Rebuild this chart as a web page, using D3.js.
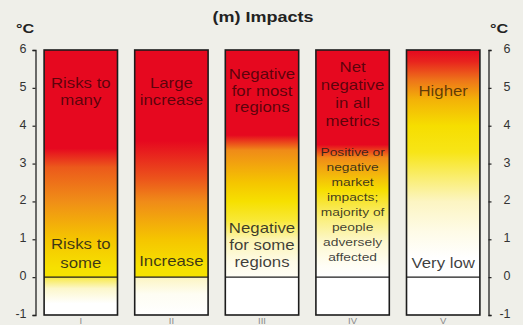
<!DOCTYPE html>
<html>
<head>
<meta charset="utf-8">
<script src="https://cdn.jsdelivr.net/npm/d3@7"></script>
<style>
  html, body { margin: 0; padding: 0; background: #efefe9; }
  svg { display: block; }
  text { font-family: "Liberation Sans", Arial, Helvetica, sans-serif; }
</style>
</head>
<body>
<svg id="chart" width="523" height="325"></svg>
<script>
// Reasons for concern: (m) Impacts, by global temperature change (°C)
const title = "(m) Impacts";
const unit = "°C";
const categories = ["I", "II", "III", "IV", "V"];
const tempTicks = [-1, 0, 1, 2, 3, 4, 5, 6];
const tempDomain = [-1, 6];

// Risk level (0 = none, 1 = high) along the temperature scale, one profile per category
const riskI   = [[6, 1], [3.4, 1], [2.9, 0.85], [2.0, 0.75], [1.0, 0.56], [0.25, 0.46], [0, 0.45], [0, 0.36], [-0.3, 0.17], [-0.7, 0], [-1, 0]];
const riskII  = [[6, 1], [3.6, 1], [2.6, 0.86], [2.0, 0.76], [1.0, 0.56], [0.3, 0.46], [0, 0.45], [0, 0.2], [-0.45, 0.04], [-1, 0]];
const riskIII = [[6, 1], [3.75, 1], [3.35, 0.76], [2.5, 0.56], [2.0, 0.46], [1.5, 0.38], [1.0, 0.22], [0.4, 0.08], [0, 0.03], [0, 0], [-1, 0]];
const riskIV  = [[6, 1], [3.5, 1], [3.15, 0.76], [2.3, 0.47], [1.6, 0.3], [0.9, 0.15], [0.3, 0.03], [0, 0], [-1, 0]];
const riskV   = [[6, 1], [5.7, 0.95], [5.2, 0.8], [4.7, 0.63], [4.0, 0.47], [3.3, 0.42], [2.6, 0.3], [2.0, 0.2], [1.2, 0.08], [0.5, 0], [-1, 0]];
const riskProfiles = [riskI, riskII, riskIII, riskIV, riskV];

// Wording inside each bar: upper (high-warming) and lower (low-warming) statements
const upperText = [
  ["Risks to", "many"],
  ["Large", "increase"],
  ["Negative", "for most", "regions"],
  ["Net", "negative", "in all", "metrics"],
  ["Higher"]
];
const lowerText = [
  ["Risks to", "some"],
  ["Increase"],
  ["Negative", "for some", "regions"],
  ["Positive or", "negative", "market", "impacts;", "majority of", "people", "adversely", "affected"],
  ["Very low"]
];
// Temperature at which the first line of each statement sits
const upperAt = [5.0, 5.0, 5.23, 5.42, 4.78];
const lowerAt = [0.74, 0.29, 1.16, 3.2, 0.24];

// ---- layout ----
const svg = d3.select("#chart");
const plotLeft = 35.5, plotRight = 488.5, plotTop = 50, plotBottom = 315;
const textStretch = 1.2;

const x = d3.scaleBand().domain(categories).range([plotLeft, plotRight]).paddingInner(0.19).paddingOuter(0.095);
const y = d3.scaleLinear().domain(tempDomain).range([plotBottom, plotTop]);

const riskColor = d3.scaleLinear()
  .domain([0, 0.2, 0.45, 0.56, 0.76, 1])
  .range(["#ffffff", "#fcf5c2", "#f6e300", "#f5c500", "#f08b18", "#e6081f"])
  .interpolate(d3.interpolateRgb);

// Gradients along the temperature axis for each bar
const defs = svg.append("defs");
categories.forEach((c, i) => {
  const g = defs.append("linearGradient")
    .attr("id", "risk-" + i)
    .attr("gradientUnits", "userSpaceOnUse")
    .attr("x1", 0).attr("x2", 0)
    .attr("y1", y(tempDomain[1])).attr("y2", y(tempDomain[0]));
  riskProfiles[i].forEach(([t, lvl]) => {
    g.append("stop")
      .attr("offset", (tempDomain[1] - t) / (tempDomain[1] - tempDomain[0]))
      .attr("stop-color", riskColor(lvl));
  });
});

// Text drawn slightly wide, like the original typesetting
const stretched = (sel, cx, cy) => sel.attr("transform", `translate(${cx},${cy}) scale(${textStretch},1)`);

stretched(svg.append("text"), 263, 22)
  .attr("text-anchor", "middle")
  .attr("font-size", 15).attr("font-weight", "bold").attr("fill", "#222")
  .text(title);

stretched(svg.append("text"), 25, 33)
  .attr("text-anchor", "middle")
  .attr("font-size", 13.5).attr("font-weight", "bold").attr("fill", "#222")
  .text(unit);
stretched(svg.append("text"), 499, 33)
  .attr("text-anchor", "middle")
  .attr("font-size", 13.5).attr("font-weight", "bold").attr("fill", "#222")
  .text(unit);

// Bars
const bars = svg.append("g").selectAll("g").data(categories).join("g");

bars.append("rect")
  .attr("x", d => x(d))
  .attr("y", y(tempDomain[1]))
  .attr("width", x.bandwidth())
  .attr("height", y(tempDomain[0]) - y(tempDomain[1]))
  .attr("fill", (d, i) => `url(#risk-${i})`)
  .attr("stroke", "#1c1c1c")
  .attr("stroke-width", 1.6);

bars.append("line")
  .attr("x1", d => x(d)).attr("x2", d => x(d) + x.bandwidth())
  .attr("y1", y(0)).attr("y2", y(0))
  .attr("stroke", "#1c1c1c").attr("stroke-width", 1.3);

// Statements inside the bars
const upperSize = [14, 14, 14, 14, 14];
const lowerSize = [14, 14, 14, 11.5, 14];
const upperLine = [17, 17, 16.5, 18, 17];
const lowerLine = [18.5, 18, 17, 15, 17];

bars.each(function (d, i) {
  const g = d3.select(this);
  const cx = x(d) + x.bandwidth() / 2;
  upperText[i].forEach((line, k) => {
    stretched(g.append("text"), cx, y(upperAt[i]) + k * upperLine[i])
      .attr("text-anchor", "middle")
      .attr("font-size", upperSize[i])
      .attr("fill", "#000").attr("fill-opacity", 0.62)
      .text(line);
  });
  lowerText[i].forEach((line, k) => {
    stretched(g.append("text"), cx, y(lowerAt[i]) + k * lowerLine[i])
      .attr("text-anchor", "middle")
      .attr("font-size", lowerSize[i])
      .attr("fill", "#1a1a1a").attr("fill-opacity", 0.85)
      .text(line);
  });
});

// Category numerals under the bars
svg.append("g").selectAll("text").data(categories).join("text")
  .attr("x", d => x(d) + x.bandwidth() / 2)
  .attr("y", 324)
  .attr("text-anchor", "middle")
  .attr("font-size", 9.5)
  .attr("fill", "#8a8a8a")
  .text(d => d);

// Temperature axes on both sides
const fmt = d => String(d);
const leftAxis = svg.append("g")
  .attr("transform", `translate(${plotLeft},0)`)
  .call(d3.axisLeft(y).tickValues(tempTicks).tickFormat(fmt).tickSize(3).tickSizeOuter(3).tickPadding(6));
const rightAxis = svg.append("g")
  .attr("transform", `translate(${plotRight},0)`)
  .call(d3.axisRight(y).tickValues(tempTicks).tickFormat(fmt).tickSize(3).tickSizeOuter(3).tickPadding(6));

[leftAxis, rightAxis].forEach(a => {
  a.select(".domain").attr("stroke", "#222").attr("stroke-width", 1.3);
  a.selectAll(".tick line").attr("stroke", "#222").attr("stroke-width", 1.2);
  a.selectAll(".tick text")
    .attr("fill", "#333")
    .attr("font-size", 12.5)
    .attr("font-family", "'Liberation Sans', Arial, sans-serif")
    .attr("dy", "0.2em");
});
rightAxis.selectAll(".tick text").attr("text-anchor", "end").attr("x", 22);
</script>
</body>
</html>
